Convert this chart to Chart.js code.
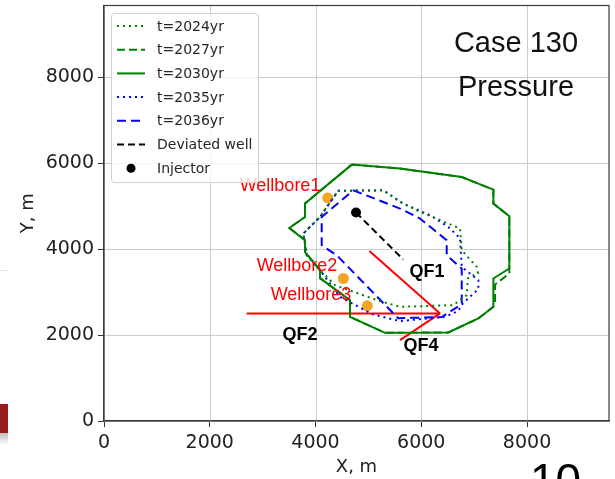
<!DOCTYPE html>
<html><head><meta charset="utf-8">
<script src="https://cdn.jsdelivr.net/npm/chart.js@4"></script>
<style>
html,body{margin:0;padding:0;background:#fff;}
#wrap{position:relative;width:615px;height:479px;overflow:hidden;background:#fff;}
#c{position:absolute;left:0;top:0;}
.ov{position:absolute;font-family:'Liberation Sans',Arial,sans-serif;color:#111;white-space:nowrap;}
.case{left:446px;width:140px;text-align:center;font-size:29px;line-height:29px;}
.num{left:530px;top:457px;font-size:46px;line-height:46px;color:#000;}
.redblk{position:absolute;left:0;top:404px;width:8px;height:29px;background:#9a1b1b;}
.shade{position:absolute;left:0;top:433px;width:8px;height:12px;background:linear-gradient(#bdbdbd,#ffffff);}
.faint{position:absolute;left:0;top:270px;width:8px;height:1px;background:#e4e4e4;}
</style></head>
<body>
<div id="wrap">
<canvas id="c" width="615" height="479"></canvas>
<div class="ov case" style="top:28px">Case 130</div>
<div class="ov case" style="top:72px">Pressure</div>
<div class="ov num">10</div>
<div class="redblk"></div><div class="shade"></div><div class="faint"></div>
</div>
<script>
// ---- data (metres) ----
const t2024X = [4426,5282,5598,5914,6733,6765,7049,7073,6884,6860,6606,5598,5163,4369,4085,3834,3769,4085,4426];
const t2024Y = [5360,5372,5100,4907,4481,3977,3588,3442,3326,2930,2698,2658,2814,3163,3512,3860,4365,4751,5360];
const t2027X = [4685,5598,6765,7363,7363,7665,7665,7395,7395,7363,7079,6512,5314,4652,4652,4085,4085,3801,3801,3504,3801,3801,4685];
const t2027Y = [5970,5877,5681,5388,5063,4767,3435,3179,2720,2658,2388,2062,2053,2426,2814,3326,3512,3937,4209,4495,4751,5063,5970];
const t2030X = [4685,5598,6765,7363,7363,7665,7665,7363,7363,7079,6512,5314,4652,4652,4085,4085,3801,3801,3504,3801,3801,4685];
const t2030Y = [5970,5877,5681,5388,5063,4767,3551,3319,2658,2388,2062,2053,2426,2814,3326,3512,3937,4209,4495,4751,5063,5970];
const t2035X = [4426,5282,5660,6165,6512,6733,6765,7079,7079,6790,6695,6449,5598,5069,4463,4085,3834,3769,4085,4426];
const t2035Y = [5360,5372,5063,4791,4519,4256,3588,3279,3070,2744,2558,2426,2326,2488,2891,3512,3860,4365,4751,5360];
const t2036X = [4715,5598,5976,6481,6481,6765,6765,6387,5560,4401,4117,4117,4715];
const t2036Y = [5372,4947,4714,4209,3860,3551,2721,2419,2395,3860,4093,4751,5372];
const wellX = [4766,5660];
const wellY = [4853,3760];
const injectorX = [4766];
const injectorY = [4853];
const wellboreX = [4230,4526,4980];
const wellboreY = [5193,3318,2681];
const wellboreNames = ['Wellbore1','Wellbore2','Wellbore3'];
const wellboreLabelX = [3329,3650,3915];
const wellboreLabelY = [5465,3605,2930];
const qf1X = [5018,6355], qf1Y = [3961,2505];
const qf2X = [2699,6355], qf2Y = [2505,2505];
const qf4X = [6355,5598], qf4Y = [2505,1884];
const faultNames = ['QF1','QF2','QF4'];
const faultLabelX = [6109,3707,5995];
const faultLabelY = [3465,2000,1744];
const xTicks = [0,2000,4000,6000,8000];
const yTicks = [0,2000,4000,6000,8000];
const xMax = 9550, yMax = 9675;

const pts = (xs,ys)=>xs.map((x,i)=>({x:x,y:ys[i]}));
const lineDs = (label,xs,ys,color,dash,width)=>({label,data:pts(xs,ys),showLine:true,borderColor:color,backgroundColor:color,borderDash:dash,borderWidth:width,pointRadius:0,tension:0,fill:false});

const datasets = [
  lineDs('t=2024yr',t2024X,t2024Y,'#008000',[2,4],2),
  lineDs('t=2027yr',t2027X,t2027Y,'#008000',[8,4],2),
  lineDs('t=2030yr',t2030X,t2030Y,'#008000',[],2),
  lineDs('t=2035yr',t2035X,t2035Y,'#0000ff',[2,4],2),
  lineDs('t=2036yr',t2036X,t2036Y,'#0000ff',[9,5],2),
  lineDs('Deviated well',wellX,wellY,'#000000',[7,4],2),
  {label:'Injector',data:pts(injectorX,injectorY),showLine:false,pointRadius:5,pointHoverRadius:5,backgroundColor:'#000',borderColor:'#000',borderWidth:0},
  {label:'Wellbores',data:pts(wellboreX,wellboreY),showLine:false,pointRadius:5.5,pointHoverRadius:5.5,backgroundColor:'#f5a524',borderColor:'#f5a524',borderWidth:0},
  lineDs('QF1',qf1X,qf1Y,'#ff0000',[],2),
  lineDs('QF2',qf2X,qf2Y,'#ff0000',[],2),
  lineDs('QF4',qf4X,qf4Y,'#ff0000',[],2)
];
const LEGEND_COUNT = 7;

const overlay = {
  id:'overlay',
  beforeDatasetsDraw(chart){
    const ctx = chart.ctx, xs = chart.scales.x, ys = chart.scales.y, ca = chart.chartArea;
    ctx.save();
    ctx.strokeStyle='#cccccc'; ctx.lineWidth=1; ctx.setLineDash([]);
    ctx.beginPath();
    xTicks.forEach(v=>{const p=Math.round(xs.getPixelForValue(v))+0.5; ctx.moveTo(p,ca.top); ctx.lineTo(p,ca.bottom);});
    yTicks.forEach(v=>{const p=Math.round(ys.getPixelForValue(v))+0.5; ctx.moveTo(ca.left,p); ctx.lineTo(ca.right,p);});
    ctx.stroke();
    ctx.restore();
  },
  afterDatasetsDraw(chart){
    const ctx = chart.ctx, xs = chart.scales.x, ys = chart.scales.y, ca = chart.chartArea;
    ctx.save();
    // frame
    ctx.strokeStyle = '#3a3a3a'; ctx.lineWidth = 1.2; ctx.setLineDash([]);
    ctx.strokeRect(ca.left, ca.top, ca.right-ca.left, ca.bottom-ca.top);
    // labels
    ctx.textAlign='center'; ctx.textBaseline='middle';
    ctx.fillStyle='#ff0000'; ctx.font='18px "Liberation Sans", Arial, sans-serif';
    wellboreNames.forEach((t,i)=>ctx.fillText(t, xs.getPixelForValue(wellboreLabelX[i]), ys.getPixelForValue(wellboreLabelY[i])));
    ctx.fillStyle='#000'; ctx.font='bold 18px "Liberation Sans", Arial, sans-serif';
    faultNames.forEach((t,i)=>ctx.fillText(t, xs.getPixelForValue(faultLabelX[i]), ys.getPixelForValue(faultLabelY[i])));
    // legend
    const bx=111.5, by=13.5, bw=147, bh=169;
    ctx.globalAlpha=0.8; ctx.fillStyle='#fff';
    ctx.beginPath(); ctx.roundRect(bx,by,bw,bh,3); ctx.fill();
    ctx.globalAlpha=1; ctx.strokeStyle='#d0d0d0'; ctx.lineWidth=1; ctx.stroke();
    ctx.font='14px "DejaVu Sans", sans-serif'; ctx.textAlign='left';
    for(let i=0;i<LEGEND_COUNT;i++){
      const ds = chart.data.datasets[i];
      const yy = 26 + 23.7*i;
      if(ds.showLine){
        ctx.strokeStyle=ds.borderColor; ctx.lineWidth=ds.borderWidth; ctx.setLineDash(ds.borderDash||[]);
        ctx.beginPath(); ctx.moveTo(117,yy); ctx.lineTo(145,yy); ctx.stroke(); ctx.setLineDash([]);
      } else {
        ctx.fillStyle=ds.backgroundColor; ctx.beginPath(); ctx.arc(131,yy,4.5,0,Math.PI*2); ctx.fill();
      }
      ctx.fillStyle='#262626'; ctx.fillText(ds.label,157,yy+1);
    }
    ctx.restore();
  }
};

new Chart(document.getElementById('c'),{
  type:'scatter',
  data:{datasets},
  options:{
    responsive:false, animation:false, devicePixelRatio:1,
    layout:{padding:{top:5,right:6,left:0,bottom:0}},
    plugins:{legend:{display:false},tooltip:{enabled:false}},
    scales:{
      x:{type:'linear',min:0,max:xMax,
        afterBuildTicks:s=>{s.ticks=xTicks.map(v=>({value:v}));},
        afterFit:s=>{s.height=58; s.paddingLeft=0; s.paddingRight=0;},
        ticks:{font:{family:'DejaVu Sans',size:19},color:'#222',padding:5,maxRotation:0,callback:v=>String(v)},
        grid:{drawOnChartArea:false,color:'#cccccc',lineWidth:1,tickLength:6,tickColor:'#333'},
        border:{display:true,color:'#3a3a3a',width:1.2},
        title:{display:true,text:'X, m',font:{family:'DejaVu Sans',size:18},color:'#222',padding:{top:0,bottom:1}}
      },
      y:{type:'linear',min:0,max:yMax,
        afterBuildTicks:s=>{s.ticks=yTicks.map(v=>({value:v}));},
        afterFit:s=>{s.width=104; s.paddingTop=0; s.paddingBottom=0;},
        ticks:{font:{family:'DejaVu Sans',size:19},color:'#222',padding:4,callback:v=>String(v)},
        grid:{drawOnChartArea:false,color:'#cccccc',lineWidth:1,tickLength:6,tickColor:'#333'},
        border:{display:true,color:'#3a3a3a',width:1.2},
        title:{display:true,text:'Y, m',font:{family:'DejaVu Sans',size:18},color:'#222',padding:{top:18,bottom:0}}
      }
    }
  },
  plugins:[overlay]
});
</script>
</body></html>
